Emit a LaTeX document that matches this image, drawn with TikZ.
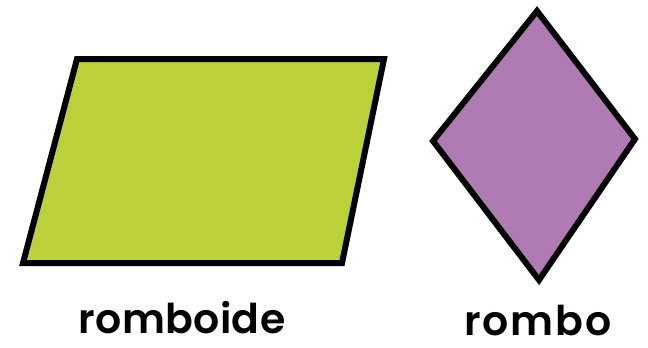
\documentclass[tikz,border=0pt]{standalone}
\usepackage{fontspec}
\setmainfont{Poppins}[BoldFont={Poppins SemiBold}]
\usepackage{tikz}
\usetikzlibrary{positioning}
\definecolor{rgreen}{HTML}{BCD03A}
\definecolor{rpurple}{HTML}{B07AB2}
\tikzset{
  figshape/.style = {draw=black, line width=6pt, line join=miter},
  figlab/.style   = {font=\fontsize{41}{48}\selectfont\bfseries, text=black, inner sep=0pt, anchor=base},
}

\begin{document}
\begin{tikzpicture}[x=1pt, y=-1pt]
  \useasboundingbox (0,0) rectangle (648,348);
  % romboide
  \coordinate (P1) at (77,59);
  \coordinate (P2) at (384,59);
  \coordinate (P3) at (342,263);
  \coordinate (P4) at (23,263);
  \draw[figshape, fill=rgreen] (P1) -- (P2) -- (P3) -- (P4) -- cycle;
  % rombo
  \coordinate (R1) at (537,11);
  \coordinate (R2) at (635,139);
  \coordinate (R3) at (539,280);
  \coordinate (R4) at (433,141);
  \draw[figshape, fill=rpurple] (R1) -- (R2) -- (R3) -- (R4) -- cycle;
  \node[figlab] (romboide) at (182,333) {\addfontfeatures{LetterSpace=1}romboide};
  \node[figlab] (rombo) at (538,335) {\addfontfeatures{LetterSpace=5}rombo};
\end{tikzpicture}
\end{document}
